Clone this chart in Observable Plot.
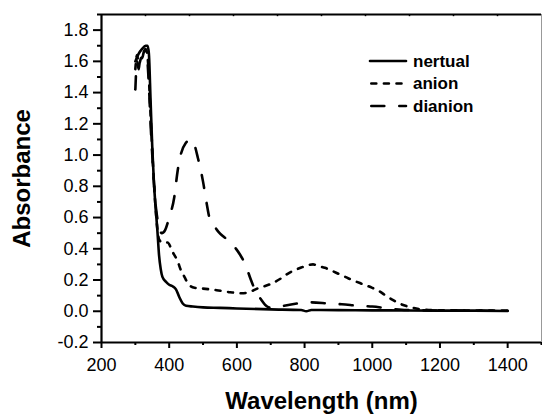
<!DOCTYPE html>
<html>
<head>
<meta charset="utf-8">
<script src="https://cdn.jsdelivr.net/npm/d3@7"></script>
<script src="https://cdn.jsdelivr.net/npm/@observablehq/plot@0.6"></script>
<style>
  html, body { margin: 0; padding: 0; background: #fff; }
  #wrap { position: relative; width: 542px; height: 414px; }
  #legend { position: absolute; left: 0; top: 0; pointer-events: none; }
</style>
</head>
<body>
<div id="wrap"></div>
<script>
// ---- data ----
const seriesNames = ["nertual", "anion", "dianion"];

const neutralX = [300,310,320,330,336,340,345,350,355,360,365,370,375,380,390,400,410,420,430,440,450,470,500,550,600,700,790,805,820,900,1000,1100,1200,1300,1400];
const neutralY = [1.60,1.65,1.68,1.70,1.70,1.65,1.35,1.05,0.82,0.66,0.52,0.36,0.27,0.22,0.19,0.17,0.16,0.14,0.09,0.05,0.035,0.03,0.025,0.022,0.018,0.012,0.008,0.0,0.008,0.007,0.006,0.005,0.004,0.004,0.002];

const anionX = [300,305,310,318,325,332,338,343,348,353,358,364,370,380,395,410,425,435,445,458,475,500,540,580,615,640,660,700,730,750,790,810,825,840,860,880,900,930,970,1000,1020,1040,1055,1080,1115,1155,1200,1300,1400];
const anionY = [1.55,1.64,1.58,1.63,1.66,1.67,1.58,1.35,1.12,0.90,0.72,0.55,0.46,0.44,0.44,0.38,0.32,0.26,0.22,0.17,0.15,0.145,0.135,0.122,0.115,0.125,0.145,0.175,0.21,0.24,0.28,0.295,0.30,0.29,0.278,0.26,0.24,0.21,0.175,0.15,0.13,0.10,0.08,0.05,0.025,0.01,0.006,0.005,0.004];

const dianionX = [300,305,310,315,320,325,330,335,340,345,350,355,360,368,378,388,400,415,425,435,450,462,472,485,500,510,520,535,545,565,590,610,625,640,655,670,690,710,740,780,820,870,910,960,1000,1060,1100,1200,1300,1400];
const dianionY = [1.42,1.60,1.55,1.65,1.62,1.66,1.68,1.62,1.45,1.20,1.00,0.82,0.68,0.56,0.50,0.52,0.60,0.73,0.90,1.01,1.08,1.10,1.08,0.98,0.83,0.70,0.59,0.54,0.51,0.47,0.42,0.36,0.30,0.21,0.13,0.08,0.03,0.02,0.035,0.05,0.057,0.05,0.045,0.035,0.03,0.015,0.008,0.005,0.004,0.003];

const xDomain = [200, 1500];
const yDomain = [-0.2, 1.9];
const xMajorTicks = [200, 400, 600, 800, 1000, 1200, 1400];
const xMinorTicks = [300, 500, 700, 900, 1100, 1300, 1500];
const yMajorTicks = [-0.2, 0, 0.2, 0.4, 0.6, 0.8, 1.0, 1.2, 1.4, 1.6, 1.8];
const yMinorTicks = [-0.1, 0.1, 0.3, 0.5, 0.7, 0.9, 1.1, 1.3, 1.5, 1.7, 1.9];
const topTicks = [330, 460, 590, 720, 850, 980, 1110, 1240, 1370];

const dashes = {nertual: null, anion: "5,7.6", dianion: "13,15"};

// ---- build table ----
function rows(name, xs, ys) { return xs.map((x, i) => ({series: name, x, y: ys[i]})); }
const data = [
  ...rows("nertual", neutralX, neutralY),
  ...rows("anion", anionX, anionY),
  ...rows("dianion", dianionX, dianionY)
];

const font = "'Liberation Sans', Arial, Helvetica, sans-serif";

const chart = Plot.plot({
  width: 542,
  height: 414,
  marginLeft: 101,
  marginRight: 1,
  marginTop: 14,
  marginBottom: 72,
  style: {fontFamily: font, color: "#000", background: "#fff", overflow: "visible"},
  x: {type: "linear", domain: xDomain, label: null},
  y: {type: "linear", domain: yDomain, label: null},
  marks: [
    // frame
    Plot.ruleY([yDomain[1]], {stroke: "#000", strokeWidth: 2.2}),
    Plot.ruleX([xDomain[1]], {stroke: "#999", strokeWidth: 1}),
    Plot.ruleX(topTicks, {x: d => d, y1: yDomain[1], y2: yDomain[1] - 0.014, stroke: "#000", strokeWidth: 1.5}),
    // axis ticks
    Plot.axisX(xMinorTicks, {tickSize: 3, text: null, stroke: "#000", strokeWidth: 2, label: null}),
    Plot.axisX(xMajorTicks, {tickSize: 6, text: null, stroke: "#000", strokeWidth: 2, label: null}),
    Plot.axisY(yMinorTicks, {tickSize: 4, text: null, stroke: "#000", strokeWidth: 2, label: null}),
    Plot.axisY(yMajorTicks, {tickSize: 8, text: null, stroke: "#000", strokeWidth: 2, label: null}),
    // tick labels
    Plot.text(xMajorTicks, {x: d => d, text: d => String(d), frameAnchor: "bottom", dy: 23, lineAnchor: "middle", fontSize: 18, fill: "#000"}),
    Plot.text(yMajorTicks, {y: d => d, text: d => d.toFixed(1), frameAnchor: "left", dx: -13, textAnchor: "end", lineAnchor: "middle", fontSize: 18, fill: "#000"}),
    Plot.ruleX([xDomain[0]], {stroke: "#000", strokeWidth: 2.2}),
    Plot.ruleY([yDomain[0]], {stroke: "#000", strokeWidth: 2.2}),
    // data lines
    ...seriesNames.map(name => Plot.line(data.filter(d => d.series === name), {
      x: "x", y: "y", stroke: "#000", strokeWidth: 2.6,
      strokeDasharray: dashes[name], strokeLinecap: "round",
      curve: "monotone-x"
    })),
    // axis titles
    Plot.text(["Wavelength (nm)"], {frameAnchor: "bottom", dy: 59, fontSize: 24, fontWeight: "bold", lineAnchor: "middle", fill: "#000"}),
    Plot.text(["Absorbance"], {frameAnchor: "left", dx: -79, rotate: -90, fontSize: 24, fontWeight: "bold", lineAnchor: "middle", textAnchor: "middle", fill: "#000"})
  ]
});

const wrap = document.getElementById("wrap");
wrap.appendChild(chart);

// ---- legend (overlay) ----
const ns = "http://www.w3.org/2000/svg";
const leg = document.createElementNS(ns, "svg");
leg.setAttribute("id", "legend");
leg.setAttribute("width", 542);
leg.setAttribute("height", 414);
const legX0 = 370, legX1 = 406, legTextX = 413, legY0 = 61, legDy = 22.5;
seriesNames.forEach((name, i) => {
  const y = legY0 + i * legDy;
  const ln = document.createElementNS(ns, "line");
  ln.setAttribute("x1", legX0 + (name === "nertual" ? 0 : 1.3));
  ln.setAttribute("x2", legX1);
  ln.setAttribute("y1", y); ln.setAttribute("y2", y);
  ln.setAttribute("stroke", "#000");
  ln.setAttribute("stroke-width", 2.6);
  ln.setAttribute("stroke-linecap", "round");
  if (dashes[name]) ln.setAttribute("stroke-dasharray", dashes[name]);
  leg.appendChild(ln);
  const t = document.createElementNS(ns, "text");
  t.setAttribute("x", legTextX);
  t.setAttribute("y", y);
  t.setAttribute("dy", "0.35em");
  t.setAttribute("font-family", font);
  t.setAttribute("font-size", 17);
  t.setAttribute("font-weight", "bold");
  t.textContent = name;
  leg.appendChild(t);
});
wrap.appendChild(leg);
</script>
</body>
</html>
